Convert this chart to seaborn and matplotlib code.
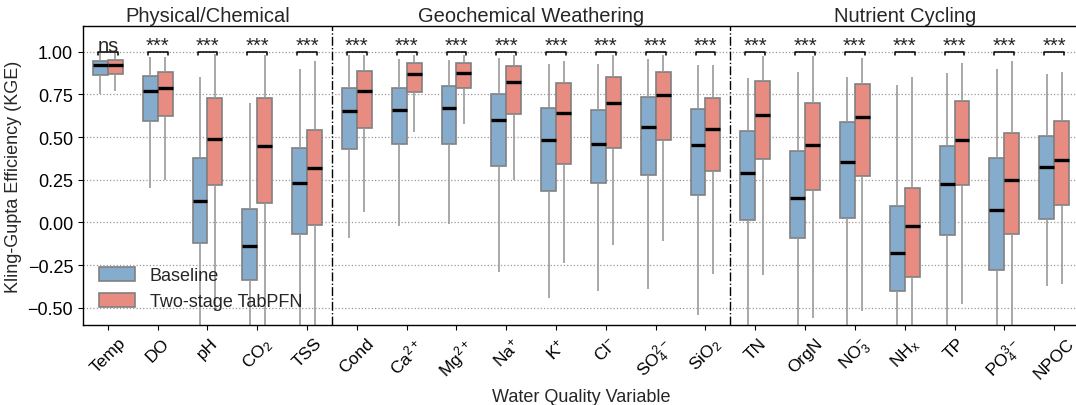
import numpy as np
import pandas as pd
import seaborn as sns
import matplotlib
matplotlib.use('Agg')
import matplotlib.pyplot as plt
import matplotlib.transforms as mtransforms

# Variables (tick labels) and the group they belong to
variables = ['Temp', 'DO', 'pH', 'CO$_2$', 'TSS',
             'Cond', 'Ca$^{2+}$', 'Mg$^{2+}$', 'Na$^{+}$', 'K$^{+}$', 'Cl$^{-}$', 'SO$_4^{2-}$', 'SiO$_2$',
             'TN', 'OrgN', 'NO$_3^{-}$', 'NH$_x$', 'TP', 'PO$_4^{3-}$', 'NPOC']
groups = ['Physical/Chemical', 'Geochemical Weathering', 'Nutrient Cycling']
group_sizes = [5, 8, 7]
significance = ['ns'] + ['***'] * 19

# Five-number summaries (KGE), Baseline
base_low = [0.75, 0.20, -1.00, -1.00, -1.00,
            -0.09, -0.02, -0.01, -0.29, -0.44, -0.40, -0.39, -0.54,
            -1.00, -1.00, -1.00, -1.00, -1.00, -1.00, -0.37]
base_q1 = [0.863, 0.595, -0.122, -0.339, -0.066,
           0.431, 0.458, 0.462, 0.332, 0.186, 0.229, 0.277, 0.159,
           0.017, -0.093, 0.025, -0.400, -0.072, -0.277, 0.023]
base_med = [0.924, 0.767, 0.126, -0.138, 0.229,
            0.650, 0.660, 0.673, 0.601, 0.481, 0.458, 0.559, 0.454,
            0.291, 0.146, 0.355, -0.180, 0.225, 0.072, 0.324]
base_q3 = [0.945, 0.857, 0.378, 0.080, 0.438,
           0.788, 0.788, 0.796, 0.753, 0.668, 0.656, 0.737, 0.662,
           0.534, 0.417, 0.590, 0.095, 0.448, 0.376, 0.505]
base_high = [0.99, 0.968, 0.854, 0.697, 0.900,
             0.978, 0.955, 0.949, 0.960, 0.925, 0.929, 0.958, 0.920,
             0.848, 0.881, 0.854, 0.803, 0.875, 0.898, 0.867]

# Two-stage TabPFN
tab_low = [0.767, 0.246, -0.52, -1.00, -1.00,
           0.062, 0.531, 0.576, 0.246, -0.239, -0.134, -0.109, -0.301,
           -0.310, -0.559, -0.516, -1.00, -0.476, -1.00, -0.359]
tab_q1 = [0.871, 0.621, 0.217, 0.116, -0.013,
          0.553, 0.761, 0.788, 0.636, 0.343, 0.438, 0.481, 0.301,
          0.371, 0.192, 0.270, -0.320, 0.219, -0.066, 0.105]
tab_med = [0.924, 0.788, 0.487, 0.446, 0.318,
           0.770, 0.867, 0.875, 0.825, 0.640, 0.698, 0.747, 0.547,
           0.629, 0.456, 0.617, -0.023, 0.485, 0.250, 0.368]
tab_q3 = [0.949, 0.881, 0.729, 0.726, 0.543,
          0.887, 0.931, 0.935, 0.916, 0.817, 0.852, 0.879, 0.731,
          0.830, 0.700, 0.809, 0.204, 0.712, 0.526, 0.592]
tab_high = [0.99, 0.968, 0.984, 0.978, 0.945,
            0.98, 0.978, 0.98, 0.98, 0.943, 0.98, 0.978, 0.920,
            0.974, 0.974, 0.960, 0.854, 0.935, 0.943, 0.883]

models = ['Baseline', 'Two-stage TabPFN']
colors = ['#86ACCD', '#E88B80']

# long-form table: five summary values per box
rows = []
for model, stats in zip(models, [(base_low, base_q1, base_med, base_q3, base_high),
                                 (tab_low, tab_q1, tab_med, tab_q3, tab_high)]):
    for i, var in enumerate(variables):
        for s in stats:
            rows.append({'variable': var, 'model': model, 'KGE': s[i]})
df = pd.DataFrame(rows)

sns.set_style('ticks')
plt.rcParams['font.family'] = ['Liberation Sans', 'DejaVu Sans']
plt.rcParams['mathtext.default'] = 'regular'

fig = plt.figure(figsize=(10.76, 4.06), dpi=100)
ax = fig.add_axes([0.0771, 0.197, 0.9257, 0.7365])

sns.boxplot(data=df, x='variable', y='KGE', hue='model', order=variables,
            hue_order=models, palette=colors, saturation=1, whis=(0, 100), width=0.6,
            showfliers=False, showcaps=False, linecolor='#808080', linewidth=1.2,
            whiskerprops=dict(color='#9a9a9a'),
            medianprops=dict(color='black', linewidth=2.4), ax=ax)

ax.set_xlim(-0.5, len(variables) - 0.5)
ax.set_ylim(-0.6, 1.15)
ax.set_yticks([-0.5, -0.25, 0, 0.25, 0.5, 0.75, 1.0])
ax.yaxis.grid(True, linestyle=':', color='#9a9a9a', linewidth=0.9)
ax.set_axisbelow(True)
for sp in ax.spines.values():
    sp.set_color('black')
    sp.set_linewidth(1.0)

ax.tick_params(axis='y', labelsize=13, colors='black')
ax.tick_params(axis='x', labelsize=12.5, colors='black')
plt.setp(ax.get_xticklabels(), rotation=45, ha='center')
ax.set_xlabel('Water Quality Variable', fontsize=13)
ax.set_ylabel('Kling-Gupta Efficiency (KGE)', fontsize=13)

# group separators and titles
trans = mtransforms.blended_transform_factory(ax.transData, ax.transAxes)
start = 0
for name, n in zip(groups, group_sizes):
    ax.text(start + (n - 1) / 2, 1.017, name, transform=trans, ha='center',
            va='baseline', fontsize=14.5)
    if start + n < len(variables):
        ax.axvline(start + n - 0.5, color='black', linestyle='-.', linewidth=1.0)
    start += n

# significance brackets
for i, sig in enumerate(significance):
    ax.plot([i - 0.2, i - 0.2, i + 0.2, i + 0.2], [0.98, 1.0, 1.0, 0.98],
            color='black', linewidth=1.1)
    ax.text(i, 1.005, sig, ha='center', va='baseline', fontsize=14.5)

sns.move_legend(ax, 'lower left', title=None, frameon=False, fontsize=13,
                handlelength=2.0, handleheight=0.8, bbox_to_anchor=(0.0, -0.005))

fig.savefig('out.png', dpi=100)
